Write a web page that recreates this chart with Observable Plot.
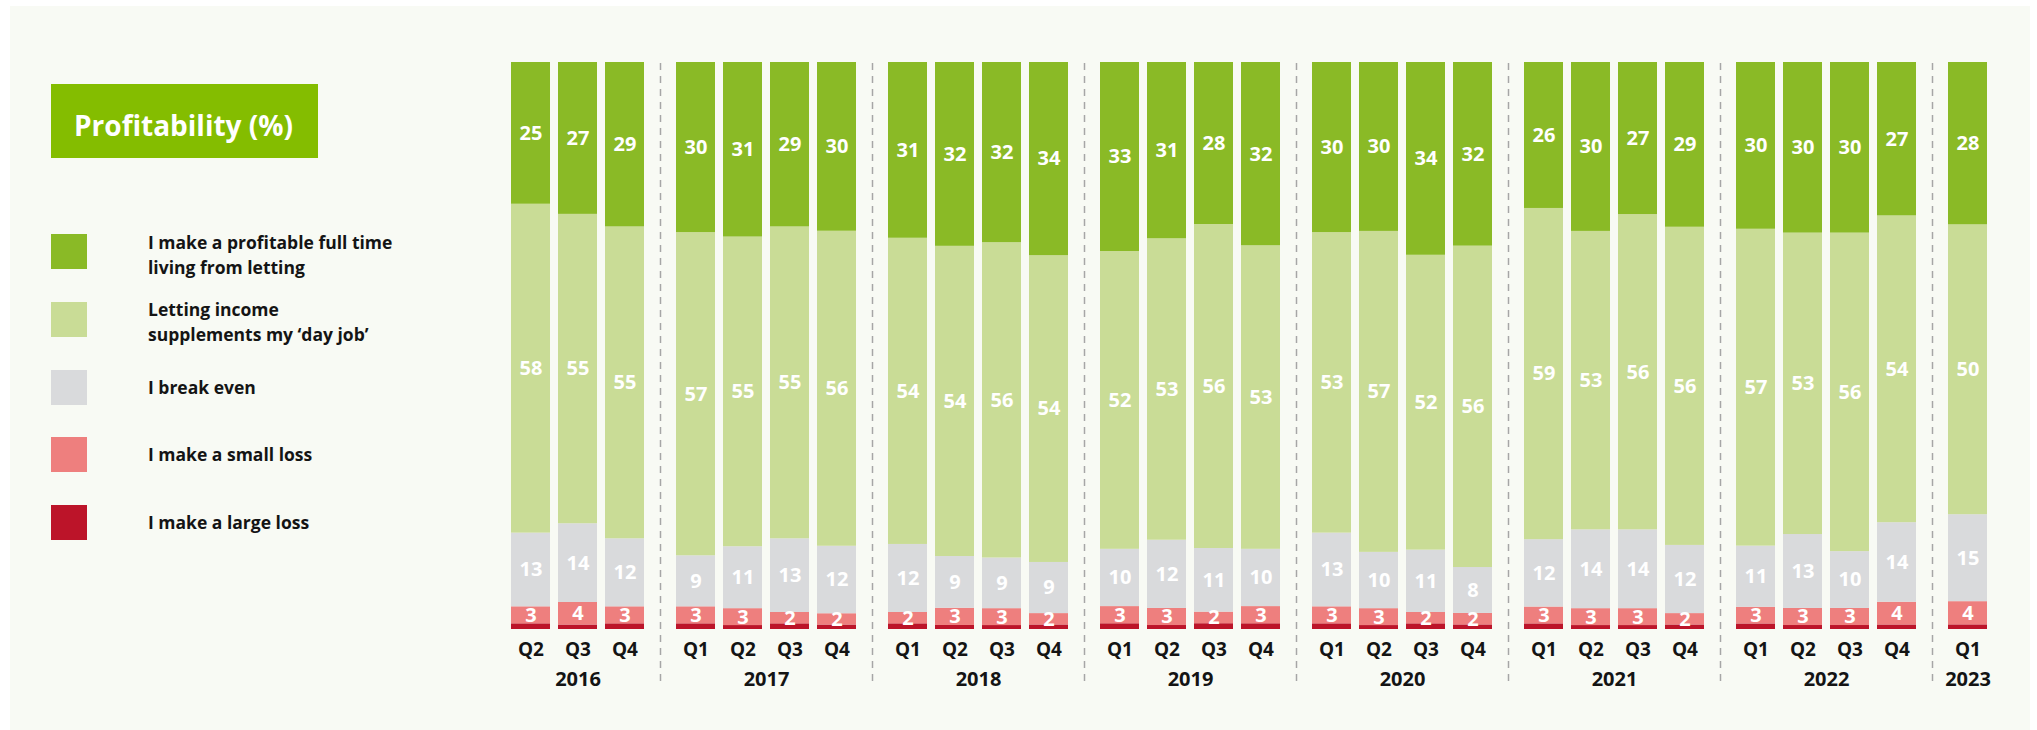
<!DOCTYPE html>
<html>
<head>
<meta charset="utf-8">
<script src="https://cdn.jsdelivr.net/npm/d3@7"></script>
<script src="https://cdn.jsdelivr.net/npm/@observablehq/plot@0.6"></script>
<style>
  html, body { margin: 0; padding: 0; background: #ffffff; overflow: hidden; }
  body { width: 2037px; height: 730px; position: relative; font-family: "Open Sans", sans-serif; }
  #panel { position: absolute; left: 10px; top: 6px; width: 2020px; height: 724px; background: #f8faf4; }
  #title { position: absolute; left: 51px; top: 84px; width: 267px; height: 74px; background: #84bd00;
           color: #fff; font-weight: 700; font-size: 28px; box-sizing: border-box; padding-left: 23px;
           line-height: 82px; white-space: nowrap; }
  .sw { position: absolute; left: 51px; width: 36px; height: 35px; }
  .lt { position: absolute; left: 148px; height: 35px; display: flex; flex-direction: column; justify-content: center;
        font-weight: 700; font-size: 17.5px; line-height: 25px; color: #141414; white-space: nowrap; }
  #chart { position: absolute; left: 0; top: 0; }
</style>
</head>
<body>
<div id="panel"></div>
<div id="title">Profitability (%)</div>
<div id="legend"></div>
<div id="chart"></div>
<script>
// ---- data ----
const years = [2016, 2017, 2018, 2019, 2020, 2021, 2022, 2023];
const quarters = [
  ["Q2", "Q3", "Q4"],
  ["Q1", "Q2", "Q3", "Q4"],
  ["Q1", "Q2", "Q3", "Q4"],
  ["Q1", "Q2", "Q3", "Q4"],
  ["Q1", "Q2", "Q3", "Q4"],
  ["Q1", "Q2", "Q3", "Q4"],
  ["Q1", "Q2", "Q3", "Q4"],
  ["Q1"]
];
const categories = [
  "I make a profitable full time living from letting",
  "Letting income supplements my \u2018day job\u2019",
  "I break even",
  "I make a small loss",
  "I make a large loss"
];
const legendLines = [
  ["I make a profitable full time", "living from letting"],
  ["Letting income", "supplements my \u2018day job\u2019"],
  ["I break even"],
  ["I make a small loss"],
  ["I make a large loss"]
];
const fullTime  = [25, 27, 29, 30, 31, 29, 30, 31, 32, 32, 34, 33, 31, 28, 32, 30, 30, 34, 32, 26, 30, 27, 29, 30, 30, 30, 27, 28];
const dayJob    = [58, 55, 55, 57, 55, 55, 56, 54, 54, 56, 54, 52, 53, 56, 53, 53, 57, 52, 56, 59, 53, 56, 56, 57, 53, 56, 54, 50];
const breakEven = [13, 14, 12, 9, 11, 13, 12, 12, 9, 9, 9, 10, 12, 11, 10, 13, 10, 11, 8, 12, 14, 14, 12, 11, 13, 10, 14, 15];
const smallLoss = [3, 4, 3, 3, 3, 2, 2, 2, 3, 3, 2, 3, 3, 2, 3, 3, 3, 2, 2, 3, 3, 3, 2, 3, 3, 3, 4, 4];
const largeLoss = [1, 0.8, 1, 1, 0.7, 1, 0.8, 1, 0.7, 0.7, 0.8, 1, 0.7, 1, 1, 1, 0.7, 1, 0.8, 1, 0.7, 0.7, 0.8, 1, 0.7, 0.7, 0.8, 0.8];
const colors = ["#8aba26", "#c9dc96", "#d9dadc", "#ee7f7e", "#bc1429"];

// ---- layout constants (in bar-slot units) ----
const barW = 39 / 47;
const groupGap = 24 / 47;

// ---- build bars ----
const bars = [];
let k = 0;
years.forEach((year, g) => {
  quarters[g].forEach(q => {
    bars.push({year, quarter: q, g, pos: k + g * groupGap, i: k});
    k++;
  });
});
const seriesValues = [largeLoss, smallLoss, breakEven, dayJob, fullTime]; // bottom-up
const stackOrder = [categories[4], categories[3], categories[2], categories[1], categories[0]];
const rows = [];
bars.forEach(b => {
  stackOrder.forEach((cat, j) => {
    rows.push({...b, category: cat, value: seriesValues[j][b.i]});
  });
});

const groups = years.map((year, g) => {
  const bs = bars.filter(b => b.g === g);
  return {year, g, first: bs[0].pos, last: bs[bs.length - 1].pos};
});
const separators = groups.slice(0, -1).map((gr, idx) => ({x: (gr.last + barW + groups[idx + 1].first) / 2}));
const xMax = bars[bars.length - 1].pos + barW;

// ---- legend (HTML) ----
const legend = document.getElementById("legend");
categories.forEach((cat, i) => {
  const top = 234 + i * 67.8;
  const sw = document.createElement("div");
  sw.className = "sw";
  sw.style.top = top + "px";
  sw.style.background = colors[i];
  legend.appendChild(sw);
  const t = document.createElement("div");
  t.className = "lt";
  t.style.top = (legendLines[i].length > 1 ? top + 3 : top) + "px";
  t.innerHTML = legendLines[i].map(s => "<div>" + s + "</div>").join("");
  legend.appendChild(t);
});

// ---- chart ----
const font = "Open Sans";
const chart = Plot.plot({
  width: 2037,
  height: 730,
  marginLeft: 511,
  marginRight: 50,
  marginTop: 63,
  marginBottom: 48,
  style: {background: "transparent", fontFamily: font},
  x: {type: "linear", domain: [0, xMax], axis: null},
  y: {domain: [0, 1], range: [629, 62], axis: null},
  color: {domain: categories, range: colors},
  marks: [
    Plot.ruleX(separators, {x: "x", stroke: "#a6a6a6", strokeWidth: 1.5, strokeDasharray: "7,6"}),
    Plot.rect(rows, Plot.stackY({
      x: "pos", x1: "pos", x2: d => d.pos + barW,
      y: "value", z: "category", fill: "category", offset: "normalize"
    })),
    Plot.text(rows, Plot.stackY({
      x: d => d.pos + barW / 2, y: "value", z: "category", offset: "normalize",
      text: d => d.category === categories[4] ? "" : String(d.value),
      fill: "white", fontSize: 20, fontWeight: 700, fontFamily: font
    })),
    Plot.text(bars, {
      x: d => d.pos + barW / 2, y: () => 0, text: "quarter", dy: 20,
      fill: "#141414", fontSize: 19, fontWeight: 700, fontFamily: font
    }),
    Plot.text(groups, {
      x: d => (d.first + d.last + barW) / 2, y: () => 0, text: d => String(d.year), dy: 50,
      fill: "#141414", fontSize: 20, fontWeight: 700, fontFamily: font
    })
  ]
});
document.getElementById("chart").appendChild(chart);
</script>
</body>
</html>
